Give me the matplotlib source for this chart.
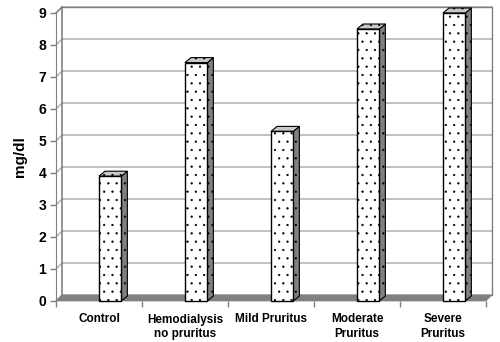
import matplotlib
matplotlib.use('Agg')
import matplotlib.pyplot as plt
from matplotlib.patches import Polygon
from matplotlib.transforms import IdentityTransform

categories = ['Control', 'Hemodialysis\nno pruritus', 'Mild Pruritus', 'Moderate\nPruritus', 'Severe\nPruritus']
values = [3.9, 7.45, 5.3, 8.5, 9.0]
yticks = list(range(10))

plt.rcParams['font.family'] = ['Liberation Sans', 'DejaVu Sans']
plt.rcParams['hatch.linewidth'] = 0.4

fig = plt.figure(figsize=(5, 3.42), dpi=100)
W, H = 500, 342
# front plane of the 3d box
ax = fig.add_axes([56 / W, (H - 301) / H, 430 / W, 288 / H])
ax.set_xlim(0, 5)
ax.set_ylim(0, 9)
for s in ['top', 'right', 'bottom']:
    ax.spines[s].set_visible(False)
ax.spines['left'].set_color('#808080')
ax.patch.set_visible(False)

DX, DY = 6, 6      # depth of the box in pixels
BX, BY = 6, 5      # depth of the bars
idt = IdentityTransform()


def pt(x, y, dx=0, dy=0):
    X, Y = ax.transData.transform((x, y))
    return (X + dx, Y + dy)


def poly(pts, **kw):
    p = Polygon(pts, closed=True, transform=idt, clip_on=False, **kw)
    ax.add_patch(p)


# back wall outline and gridlines
grid_c = '#a6a6a6'
for t in yticks:
    a, b = pt(0, t), pt(0, t, DX, DY)
    c = pt(5, t, DX, DY)
    ax.add_line(plt.Line2D([a[0], b[0], c[0]], [a[1], b[1], c[1]], color=grid_c,
                           lw=1, transform=idt, clip_on=False, zorder=1))
l0, l1 = pt(0, 0, DX, DY), pt(0, 9, DX, DY)
r0, r1 = pt(5, 0, DX, DY), pt(5, 9, DX, DY)
ax.add_line(plt.Line2D([l0[0], l1[0]], [l0[1], l1[1]], color='#808080', lw=1.2,
                       transform=idt, clip_on=False, zorder=1))
ax.add_line(plt.Line2D([r0[0], r1[0], l1[0]], [r0[1], r1[1], l1[1]], color='#808080', lw=1,
                       transform=idt, clip_on=False, zorder=1))
t9 = pt(0, 9)
ax.add_line(plt.Line2D([t9[0], l1[0]], [t9[1], l1[1]], color='#808080', lw=1,
                       transform=idt, clip_on=False, zorder=1))

# floor
poly([pt(0, 0), pt(5, 0), pt(5, 0, DX, DY), pt(0, 0, DX, DY)],
     facecolor='#808080', edgecolor='#808080', lw=0.5, zorder=2)

# bars
width = 0.26
for i, v in enumerate(values):
    x0 = i + 0.5
    x1 = x0 + width
    poly([pt(x1, 0), pt(x1, 0, BX, BY), pt(x1, v, BX, BY), pt(x1, v)],
         facecolor='#808080', edgecolor='black', lw=0.8, hatch='..', zorder=3)
    poly([pt(x0, v), pt(x1, v), pt(x1, v, BX, BY), pt(x0, v, BX, BY)],
         facecolor='#c8c8c8', edgecolor='black', lw=0.8, hatch='..', zorder=3)
    ax.bar(x0, v, width=width, align='edge', color='white', edgecolor='black',
           lw=1, hatch='..', zorder=4, clip_on=False)

# front bottom edge ticks
ax.set_xticks([i + 0.5 for i in range(5)])
ax.set_xticklabels(categories, fontsize=8.5, fontweight='bold', linespacing=1.25)
ax.set_xticks(range(6), minor=True)
ax.tick_params(axis='x', which='major', length=0, pad=9)
ax.tick_params(axis='x', which='minor', length=4, color='#808080', width=1)
ax.set_yticks(yticks)
ax.set_yticklabels([str(t) for t in yticks], fontsize=10, fontweight='bold')
ax.tick_params(axis='y', length=4, color='#808080', width=1, pad=3)
ax.set_ylabel('mg/dl', fontsize=11, fontweight='bold', labelpad=8)

fig.savefig('out.png', dpi=100)
